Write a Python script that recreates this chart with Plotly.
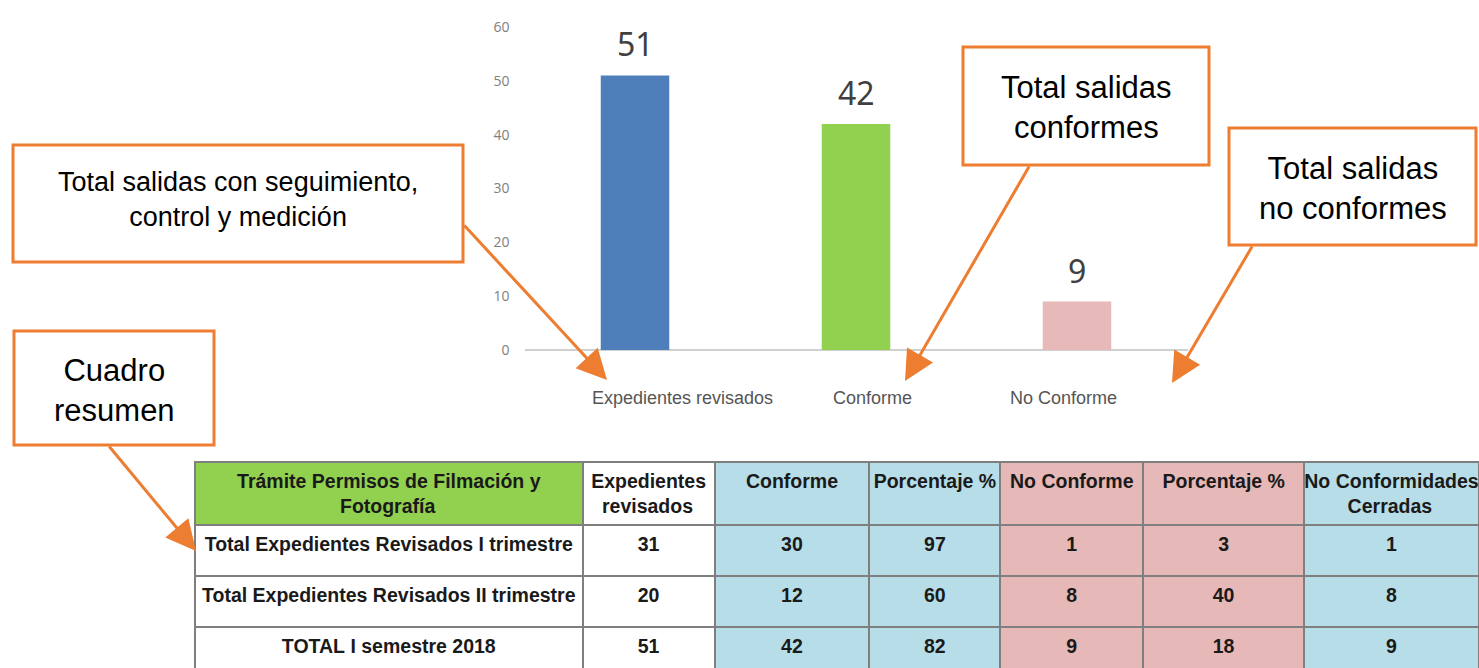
import plotly.graph_objects as go

W, H = 1479, 668

# Bar chart data
categories = ["Expedientes revisados", "Conforme", "No Conforme"]
values = [51, 42, 9]
bar_colors = ["#4F7FBB", "#92D050", "#E8B9B9"]
y_ticks = [0, 10, 20, 30, 40, 50, 60]

# Summary table data (each header is a list of its text lines)
table_header = [
    ["Trámite Permisos de Filmación y", "Fotografía"],
    ["Expedientes", "revisados"],
    ["Conforme"],
    ["Porcentaje %"],
    ["No Conforme"],
    ["Porcentaje %"],
    ["No Conformidades", "Cerradas"],
]
row_labels = [
    "Total Expedientes Revisados I trimestre",
    "Total Expedientes Revisados II trimestre",
    "TOTAL I semestre 2018",
]
revisados = [31, 20, 51]
conforme = [30, 12, 42]
pct_conforme = [97, 60, 82]
no_conforme = [1, 8, 9]
pct_no_conforme = [3, 40, 18]
cerradas = [1, 8, 9]

ORANGE = "#ED7D31"
GREEN = "#92D050"
BLUE = "#B7DDE8"
PINK = "#E6B8B7"
SANS = "Liberation Sans, Arial, sans-serif"
TABLE_FONT_SIZE = 19.5
NBSP = "\u00a0"


def px_x(v):
    return v / W


def px_y(v):
    return 1 - v / H


# Approximate advance widths (em) of Liberation Sans Bold, used to centre
# every line of a multi-line table header by padding it with no-break spaces.
BOLD_EM = {
    " ": .278, "%": .889, "C": .722, "E": .667, "F": .611, "N": .722, "P": .667,
    "T": .611, "a": .556, "c": .556, "d": .611, "e": .556, "f": .333, "g": .611,
    "i": .278, "j": .278, "l": .278, "m": .889, "n": .611, "o": .611, "p": .611,
    "r": .389, "s": .556, "t": .333, "v": .556, "x": .556, "y": .556, "á": .556,
    "í": .278, "ó": .611,
}


def text_width(s, size):
    return sum(BOLD_EM.get(ch, .6) for ch in s) * size


def centred_lines(lines, size):
    widest = max(text_width(l, size) for l in lines)
    space = BOLD_EM[" "] * size
    out = []
    for l in lines:
        pad = int(round((widest - text_width(l, size)) / 2 / space))
        out.append(NBSP * pad + l.replace(" ", NBSP if len(lines) == 1 or l == lines[-1] else " "))
    return "<br>".join(out)


fig = go.Figure()

fig.add_trace(go.Bar(
    x=categories,
    y=values,
    marker=dict(color=bar_colors, line=dict(width=0)),
    width=0.31,
    showlegend=False,
    hoverinfo="skip",
))

# Value labels above the bars
for cat, v in zip(categories, values):
    fig.add_annotation(
        x=cat, y=v, xref="x", yref="y",
        text=str(v), showarrow=False,
        xanchor="center", yanchor="bottom", yshift=8,
        font=dict(family="Noto Sans, Open Sans, sans-serif", size=32, color="#404040"),
    )

# Summary table
columns = [row_labels, revisados, conforme, pct_conforme, no_conforme, pct_no_conforme, cerradas]
col_fills = ["white", "white", BLUE, BLUE, PINK, PINK, BLUE]
header_fills = [GREEN, "white", BLUE, BLUE, PINK, PINK, BLUE]

header_text = []
for lines in table_header:
    if len(lines) == 1:
        header_text.append("<b>" + lines[0].replace(" ", NBSP) + "</b>")
    else:
        header_text.append("<b>" + centred_lines(lines, TABLE_FONT_SIZE) + "</b>")

fig.add_trace(go.Table(
    domain=dict(x=[px_x(195), 1.0], y=[0.0, px_y(462)]),
    columnwidth=[388, 132, 155, 131, 143, 161, 175],
    header=dict(
        values=header_text,
        fill_color=header_fills,
        line=dict(color="#7F7F7F", width=2),
        align="center",
        height=59,
        font=dict(family=SANS, size=TABLE_FONT_SIZE, color="#1A1A1A"),
    ),
    cells=dict(
        values=[[f"<b>{str(v).replace(' ', NBSP)}</b>" for v in col] for col in columns],
        fill_color=[[c] * len(row_labels) for c in col_fills],
        line=dict(color="#7F7F7F", width=2),
        align="center",
        height=51,
        font=dict(family=SANS, size=TABLE_FONT_SIZE, color="#1A1A1A"),
    ),
))

# Category labels under the bars
label_shift = [47, 16, -14]
for cat, dx in zip(categories, label_shift):
    fig.add_annotation(
        x=cat, xref="x", y=px_y(398), yref="paper",
        text=cat, showarrow=False, xanchor="center", yanchor="middle", xshift=dx,
        font=dict(family=SANS, size=18, color="#555555"),
    )

# Callout boxes with their texts
callouts = [
    ((13, 145, 463, 262), "Total salidas con seguimiento,<br>control y medición", 27, 200),
    ((963, 47, 1209, 165), "Total salidas<br>conformes", 31, 107),
    ((1229, 128, 1476, 245), "Total salidas<br>no conformes", 31, 188),
    ((14, 331, 214, 445), "Cuadro<br>resumen", 31, 390),
]
for (x0, y0, x1, y1), txt, fs, yc in callouts:
    fig.add_shape(
        type="rect", xref="paper", yref="paper",
        x0=px_x(x0), x1=px_x(x1), y0=px_y(y1), y1=px_y(y0),
        line=dict(color=ORANGE, width=3), fillcolor="white", layer="above",
    )
    fig.add_annotation(
        x=px_x((x0 + x1) / 2), y=px_y(yc), xref="paper", yref="paper",
        text=txt, showarrow=False, xanchor="center", yanchor="middle",
        font=dict(family=SANS, size=fs, color="#000000"),
    )

# Callout pointers: (tail, head) in page pixels
pointers = [
    ((463, 224), (607, 380)),
    ((1030, 165), (905, 381)),
    ((1253, 245), (1172, 383)),
    ((108, 445), (196, 551)),
]
for (tx, ty), (hx, hy) in pointers:
    fig.add_annotation(
        x=px_x(hx), y=px_y(hy), xref="paper", yref="paper",
        ax=tx - hx, ay=ty - hy, axref="pixel", ayref="pixel",
        text="", showarrow=True, arrowhead=2, arrowsize=2,
        arrowwidth=3, arrowcolor=ORANGE, standoff=0,
    )

fig.update_layout(
    width=W, height=H,
    margin=dict(l=0, r=0, t=0, b=0, autoexpand=False),
    paper_bgcolor="white",
    plot_bgcolor="white",
    xaxis=dict(
        domain=[px_x(524.5), px_x(1187.5)],
        range=[-0.5, 2.5],
        showticklabels=False,
        showgrid=False,
        zeroline=False,
        showline=False,
        ticks="",
        automargin=False,
    ),
    yaxis=dict(
        domain=[px_y(350), px_y(27)],
        range=[0, 60],
        tickvals=y_ticks,
        showgrid=False,
        zeroline=True,
        zerolinecolor="#D0D0D0",
        zerolinewidth=2,
        showline=False,
        ticks="",
        ticklabelstandoff=14,
        automargin=False,
        tickfont=dict(family="Open Sans, Noto Sans, sans-serif", size=14, color="#808080"),
    ),
)

fig.write_html("out.html")
